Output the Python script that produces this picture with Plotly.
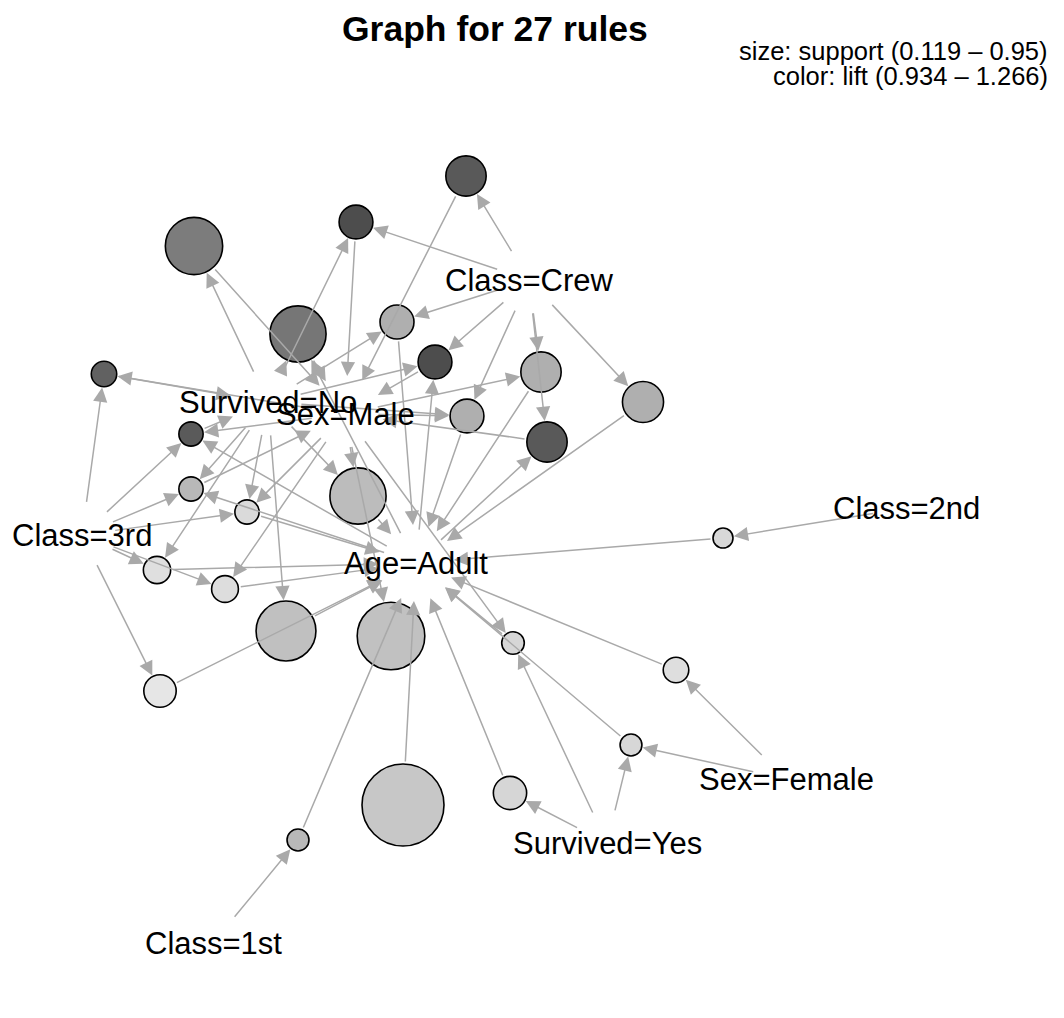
import plotly.graph_objects as go

# ---------------- data: items (graph layout coordinates) ----------------
items = ["Age=Adult", "Sex=Male", "Survived=No", "Class=Crew", "Class=3rd",
         "Class=2nd", "Class=1st", "Sex=Female", "Survived=Yes"]
item_x = [416, 345, 268, 529, 82, 906, 213, 786, 607]
item_y = [563, 414, 402, 280, 535, 508, 943, 779, 843]

# ---------------- data: the 27 rules ----------------
rule_lhs = [
    [], ["Class=2nd"], ["Class=1st"], ["Sex=Female"], ["Class=3rd"], ["Survived=Yes"],
    ["Class=Crew"], ["Class=Crew"], ["Survived=No"], ["Survived=No"], ["Sex=Male"],
    ["Sex=Female", "Survived=Yes"], ["Class=3rd", "Sex=Male"], ["Class=3rd", "Survived=No"],
    ["Class=3rd", "Sex=Male"], ["Sex=Male", "Survived=Yes"], ["Class=Crew", "Survived=No"],
    ["Class=Crew", "Survived=No"], ["Class=Crew", "Sex=Male"], ["Class=Crew", "Age=Adult"],
    ["Sex=Male", "Survived=No"], ["Age=Adult", "Survived=No"],
    ["Class=3rd", "Sex=Male", "Survived=No"], ["Class=3rd", "Age=Adult", "Survived=No"],
    ["Class=3rd", "Sex=Male", "Age=Adult"], ["Class=Crew", "Sex=Male", "Survived=No"],
    ["Class=Crew", "Age=Adult", "Survived=No"],
]
rule_rhs = [
    "Age=Adult", "Age=Adult", "Age=Adult", "Age=Adult", "Age=Adult", "Age=Adult",
    "Sex=Male", "Age=Adult", "Sex=Male", "Age=Adult", "Age=Adult", "Age=Adult",
    "Survived=No", "Age=Adult", "Age=Adult", "Age=Adult", "Sex=Male", "Age=Adult",
    "Age=Adult", "Sex=Male", "Age=Adult", "Sex=Male", "Age=Adult", "Sex=Male",
    "Survived=No", "Age=Adult", "Sex=Male",
]
support = [0.9505, 0.1186, 0.1449, 0.1931, 0.2849, 0.2971, 0.3916, 0.4021, 0.6197,
           0.6533, 0.7574, 0.1436, 0.1917, 0.2163, 0.2099, 0.1536, 0.3044, 0.3058,
           0.3916, 0.3916, 0.6038, 0.6038, 0.1758, 0.1758, 0.1758, 0.3044, 0.3044]
lift = [1.0000, 0.9635, 1.0327, 0.9514, 0.9344, 0.9678, 1.2385, 1.0521, 1.1640,
        1.0154, 1.0132, 0.9665, 1.2223, 0.9485, 0.9531, 0.9690, 1.2659, 1.0521,
        1.0521, 1.2385, 1.0251, 1.1751, 0.9587, 1.0338, 1.2374, 1.0521, 1.2659]
rule_x = [403, 723, 298, 676, 160, 510, 466, 643, 194, 286, 391, 631, 104, 157,
          225, 513, 356, 397, 541, 547, 358, 298, 247, 191, 191, 467, 435]
rule_y = [805, 538, 840, 670, 691, 793, 176, 402, 246, 631, 636, 745, 374, 570,
          589, 643, 222, 322, 372, 442, 496, 334, 512, 489, 434, 416, 362]

title_text = "Graph for 27 rules"
legend_size = "size: support (0.119 \u2013 0.95)"
legend_color = "color: lift (0.934 \u2013 1.266)"

# ---------------- derived encodings ----------------
W, H = 1064, 1018
OFF = 8  # page body margin
smin, smax = min(support), max(support)
lmin, lmax = min(lift), max(lift)
diam = [20 + (s - smin) / (smax - smin) * 62 for s in support]


def gray(l):
    t = (l - lmin) / (lmax - lmin)
    g = round(255 * (0.9 - 0.6 * t))
    return f"rgb({g},{g},{g})"


fill = [gray(l) for l in lift]
pos = {it: (x, y) for it, x, y in zip(items, item_x, item_y)}

ITEM_PAD_HEAD = 38
ITEM_PAD_TAIL = 32
EDGE_COL = "#a9a9a9"

annotations = []


def edge(x0, y0, x1, y1, s0, s1):
    annotations.append(dict(
        x=x1, y=y1, ax=x0, ay=y0, xref="x", yref="y", axref="x", ayref="y",
        text="", showarrow=True, arrowhead=2, arrowsize=1.9, arrowwidth=1.5,
        arrowcolor=EDGE_COL, standoff=s1, startstandoff=s0))


for i in range(len(support)):
    r = diam[i] / 2
    for it in rule_lhs[i]:
        ix, iy = pos[it]
        edge(ix, iy, rule_x[i], rule_y[i], ITEM_PAD_TAIL, r + 1)
    ix, iy = pos[rule_rhs[i]]
    edge(rule_x[i], rule_y[i], ix, iy, r + 1, ITEM_PAD_HEAD)

for it, x, y in zip(items, item_x, item_y):
    annotations.append(dict(x=x, y=y, xref="x", yref="y", text=it, showarrow=False,
                            xanchor="center", yanchor="middle",
                            font=dict(size=31, color="black")))

annotations.append(dict(x=495, y=29, xref="x", yref="y", text=f"<b>{title_text}</b>",
                        showarrow=False, xanchor="center", yanchor="middle",
                        font=dict(size=35.5, color="black")))
annotations.append(dict(x=1050, y=51, xref="x", yref="y", text=legend_size,
                        showarrow=False, xanchor="right", yanchor="middle",
                        font=dict(size=25.5, color="black")))
annotations.append(dict(x=1050, y=76, xref="x", yref="y", text=legend_color,
                        showarrow=False, xanchor="right", yanchor="middle",
                        font=dict(size=25.5, color="black")))

fig = go.Figure(go.Scatter(
    x=rule_x, y=rule_y, mode="markers", hoverinfo="skip",
    marker=dict(size=diam, color=fill, line=dict(color="black", width=1.6), opacity=1),
))

fig.update_layout(
    width=W - OFF, height=H - OFF, autosize=False,
    margin=dict(l=0, r=0, t=0, b=0),
    paper_bgcolor="white", plot_bgcolor="white",
    font=dict(family="Liberation Sans, Arial, sans-serif", color="black"),
    showlegend=False,
    xaxis=dict(range=[OFF, W], visible=False, fixedrange=True),
    yaxis=dict(range=[H, OFF], visible=False, fixedrange=True),
    annotations=annotations,
)

fig.write_html("out.html")
